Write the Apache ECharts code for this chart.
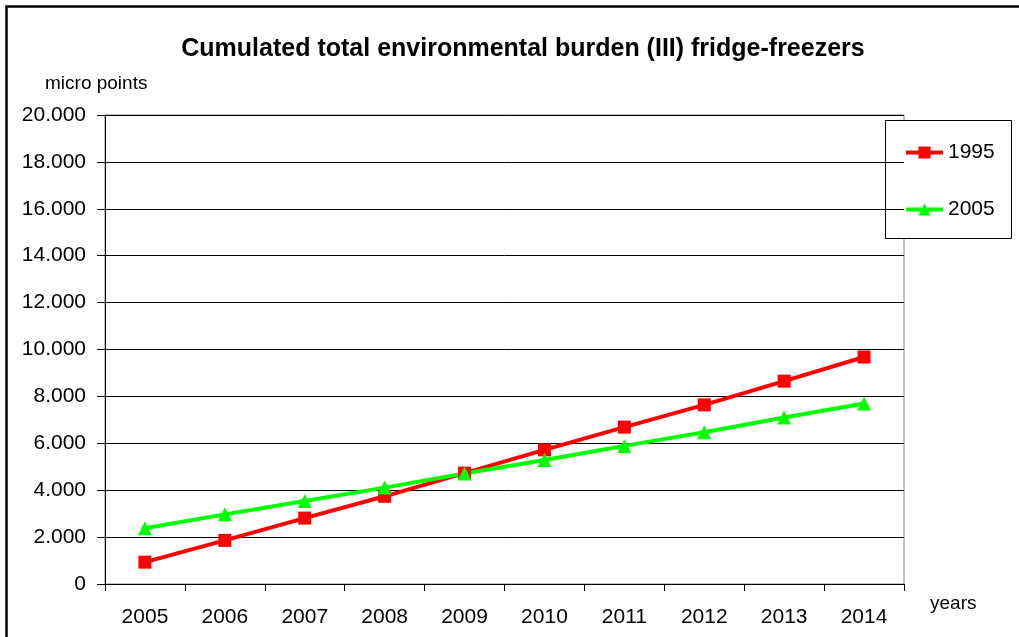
<!DOCTYPE html>
<html>
<head>
<meta charset="utf-8">
<script src="https://cdn.jsdelivr.net/npm/echarts@6/dist/echarts.min.js"></script>
<style>
  html, body { margin: 0; padding: 0; background: #ffffff; }
  #chart { width: 1019px; height: 637px; }
</style>
</head>
<body>
<div id="chart"></div>
<script>
// Years on the category axis
const years = ['2005', '2006', '2007', '2008', '2009', '2010', '2011', '2012', '2013', '2014'];
// Cumulated burden in micro points, fridge-freezer built 1995
const series1995 = [930, 1860, 2810, 3740, 4730, 5720, 6690, 7640, 8650, 9680];
// Cumulated burden in micro points, fridge-freezer built 2005
const series2005 = [2380, 2970, 3540, 4110, 4710, 5290, 5890, 6470, 7100, 7700];
const seriesNames = ['1995', '2005'];

const font = 'Liberation Sans, Arial, sans-serif';

// European thousands separator: 20000 -> 20.000
function fmt(v) {
  return String(v).replace(/\B(?=(\d{3})+(?!\d))/g, '.');
}

const chart = echarts.init(document.getElementById('chart'), null, { renderer: 'canvas' });

chart.setOption({
  animation: false,
  backgroundColor: '#ffffff',
  title: {
    text: 'Cumulated total environmental burden (III) fridge-freezers',
    left: 518,
    textAlign: 'center',
    top: 32,
    textStyle: { fontFamily: font, fontSize: 25, fontWeight: 'bold', color: '#000' }
  },
  legend: {
    orient: 'vertical',
    left: 904,
    top: 142,
    padding: 0,
    itemGap: 36,
    itemWidth: 37,
    itemHeight: 15,
    lineStyle: { width: 4 },
    textStyle: { fontFamily: font, fontSize: 21, color: '#000', lineHeight: 21, padding: [0, 0, 0, 0] },
    data: seriesNames
  },
  grid: {
    left: 105,
    top: 115,
    width: 799,
    height: 469,
    show: true,
    borderColor: '#808080',
    borderWidth: 1,
    containLabel: false
  },
  xAxis: {
    type: 'category',
    data: years,
    boundaryGap: true,
    axisLine: { show: true, lineStyle: { color: '#000', width: 1 } },
    axisTick: { show: true, length: 7, lineStyle: { color: '#000' } },
    axisLabel: { fontFamily: font, fontSize: 21, color: '#000', margin: 23 },
    splitLine: { show: false }
  },
  yAxis: {
    type: 'value',
    min: 0,
    max: 20000,
    interval: 2000,
    axisLine: { show: true, lineStyle: { color: '#000', width: 1 } },
    axisTick: { show: true, length: 8, lineStyle: { color: '#000' } },
    axisLabel: { fontFamily: font, fontSize: 21, color: '#000', margin: 19, formatter: fmt },
    splitLine: { show: true, lineStyle: { color: '#000', width: 1 } }
  },
  series: [
    {
      name: seriesNames[0],
      type: 'line',
      data: series1995,
      symbol: 'rect',
      symbolSize: 13,
      color: '#ff0000',
      lineStyle: { width: 4, color: '#ff0000' },
      itemStyle: { color: '#ff0000' }
    },
    {
      name: seriesNames[1],
      type: 'line',
      data: series2005,
      symbol: 'triangle',
      symbolSize: 14,
      color: '#00ff00',
      lineStyle: { width: 4, color: '#00ff00' },
      itemStyle: { color: '#00ff00' }
    }
  ],
  graphic: [
    // outer frame
    {
      type: 'rect',
      shape: { x: 6.5, y: 6.5, width: 1100, height: 700 },
      style: { fill: 'none', stroke: '#000', lineWidth: 2.5 },
      silent: true
    },
    // legend frame
    {
      type: 'rect',
      shape: { x: 885.5, y: 120.5, width: 126, height: 118 },
      style: { fill: '#ffffff', stroke: '#000', lineWidth: 1 },
      z: 0,
      zlevel: 0,
      silent: true
    },
    {
      type: 'text',
      left: 45,
      top: 74,
      style: { text: 'micro points', fontFamily: font, fontSize: 19, fill: '#000' }
    },
    {
      type: 'text',
      left: 930,
      top: 594,
      style: { text: 'years', fontFamily: font, fontSize: 19, fill: '#000' }
    }
  ]
});
</script>
</body>
</html>
